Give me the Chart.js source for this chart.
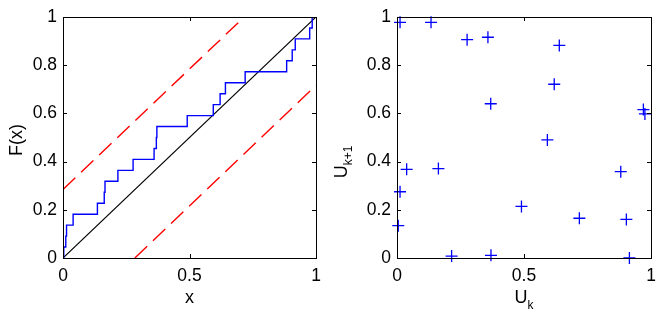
<!DOCTYPE html>
<html>
<head>
<meta charset="utf-8">
<script src="https://cdn.jsdelivr.net/npm/chart.js@4.4.1/dist/chart.umd.min.js"></script>
<style>
    body { margin: 0; background: #fff; }
    canvas { position: absolute; top: 0; }
    #cdf { left: 0; }
    #nuage { left: 332px; }
</style>
</head>
<body>
<canvas id="cdf" width="332" height="316"></canvas>
<canvas id="nuage" width="332" height="316"></canvas>
<script>
// Valeurs triees de l'echantillon (fonction de repartition empirique)
let valeursTriees = [0.003, 0.011, 0.014, 0.040, 0.136, 0.163, 0.166, 0.217, 0.277, 0.360, 0.369,
    0.371, 0.491, 0.594, 0.621, 0.642, 0.720, 0.884, 0.906, 0.918, 0.975, 0.985];
// Demi-largeur de la bande de Kolmogorov-Smirnov
let bandeKS = 0.284;
// Nuage (U_k, U_k+1)
let uk = [0.012, 0.134, 0.276, 0.358, 0.639, 0.619, 0.369, 0.970, 0.976, 0.592, 0.038,
    0.163, 0.012, 0.881, 0.490, 0.718, 0.903, 0.005, 0.215, 0.370, 0.915];
let ukSuivant = [0.978, 0.978, 0.906, 0.916, 0.882, 0.721, 0.640, 0.616, 0.598, 0.490, 0.368,
    0.371, 0.275, 0.358, 0.214, 0.165, 0.160, 0.134, 0.008, 0.011, 0.000];
// Graduations
let ticksX = [0, 0.5, 1];
let ticksY = [0, 0.2, 0.4, 0.6, 0.8, 1];

Chart.defaults.font.family = "'Liberation Sans', Arial, sans-serif";
Chart.defaults.font.size = 17.5;
Chart.defaults.color = '#000';

let n = valeursTriees.length;
let pointsEcdf = [{x: 0, y: 0}];
valeursTriees.forEach((v, i) => pointsEcdf.push({x: v, y: (i + 1) / n}));
pointsEcdf.push({x: 1, y: 1});

// Cadre noir + graduations vers l'interieur (style MATLAB) + titres des axes
function cadre(titres) {
    return {
        id: 'cadre',
        afterDraw(chart) {
            let ctx = chart.ctx;
            let a = chart.chartArea;
            let sx = chart.scales.x, sy = chart.scales.y;
            ctx.save();
            ctx.strokeStyle = '#000';
            ctx.lineWidth = 1;
            ctx.strokeRect(Math.round(a.left) + 0.5, Math.round(a.top) + 0.5,
                Math.round(a.right - a.left), Math.round(a.bottom - a.top));
            ctx.beginPath();
            ticksX.forEach(v => {
                let px = Math.round(sx.getPixelForValue(v)) + 0.5;
                ctx.moveTo(px, a.bottom); ctx.lineTo(px, a.bottom - 4);
                ctx.moveTo(px, a.top); ctx.lineTo(px, a.top + 4);
            });
            ticksY.forEach(v => {
                let py = Math.round(sy.getPixelForValue(v)) + 0.5;
                ctx.moveTo(a.left, py); ctx.lineTo(a.left + 4, py);
                ctx.moveTo(a.right, py); ctx.lineTo(a.right - 4, py);
            });
            ctx.stroke();
            titres(ctx, a);
            ctx.restore();
        }
    };
}

function echelles() {
    return {
        x: {
            type: 'linear', min: 0, max: 1,
            grid: {display: false, drawTicks: false}, border: {display: false},
            afterBuildTicks: s => { s.ticks = ticksX.map(v => ({value: v})); },
            afterFit: s => { s.height = 58; },
            ticks: {padding: 8, maxRotation: 0, callback: v => String(v)}
        },
        y: {
            type: 'linear', min: 0, max: 1,
            grid: {display: false, drawTicks: false}, border: {display: false},
            afterBuildTicks: s => { s.ticks = ticksY.map(v => ({value: v})); },
            afterFit: s => { s.width = 63; },
            ticks: {padding: 6, callback: v => String(v)}
        }
    };
}

new Chart(document.getElementById('cdf'), {
    type: 'scatter',
    data: {
        datasets: [
            {data: pointsEcdf, showLine: true, stepped: 'before', borderColor: '#0000ff',
                borderWidth: 1.4, pointRadius: 0},
            {data: [{x: 0, y: 0}, {x: 1, y: 1}], showLine: true, borderColor: '#000',
                borderWidth: 1.2, pointRadius: 0},
            {data: [{x: 0, y: bandeKS}, {x: 1 - bandeKS, y: 1}], showLine: true, borderColor: '#ff0000',
                borderWidth: 1.4, borderDash: [17, 8], pointRadius: 0},
            {data: [{x: bandeKS, y: 0}, {x: 1, y: 1 - bandeKS}], showLine: true, borderColor: '#ff0000',
                borderWidth: 1.4, borderDash: [17, 8], pointRadius: 0}
        ]
    },
    options: {
        responsive: false,
        animation: false,
        events: [],
        layout: {padding: {top: 17, right: 16, left: 0, bottom: 0}},
        plugins: {legend: {display: false}, tooltip: {enabled: false}},
        scales: echelles()
    },
    plugins: [cadre((ctx, a) => {
        ctx.fillStyle = '#000';
        ctx.font = "18px 'Liberation Sans', Arial, sans-serif";
        ctx.textAlign = 'center';
        ctx.textBaseline = 'alphabetic';
        ctx.fillText('x', (a.left + a.right) / 2, 303);
        ctx.save();
        ctx.translate(22, 140);
        ctx.rotate(-Math.PI / 2);
        ctx.fillText('F(x)', 0, 0);
        ctx.restore();
    })]
});

new Chart(document.getElementById('nuage'), {
    type: 'scatter',
    data: {
        datasets: [{
            data: uk.map((v, i) => ({x: v, y: ukSuivant[i]})),
            pointStyle: 'cross', pointRadius: 6, borderColor: '#0000ff',
            borderWidth: 1.3, clip: false
        }]
    },
    options: {
        responsive: false,
        animation: false,
        events: [],
        layout: {padding: {top: 17, right: 13, left: 2, bottom: 0}},
        plugins: {legend: {display: false}, tooltip: {enabled: false}},
        scales: echelles()
    },
    plugins: [cadre((ctx, a) => {
        ctx.fillStyle = '#000';
        ctx.textBaseline = 'alphabetic';
        ctx.textAlign = 'left';
        let grand = "18px 'Liberation Sans', Arial, sans-serif";
        let petit = "12px 'Liberation Sans', Arial, sans-serif";
        // U_k
        ctx.font = grand;
        let wU = ctx.measureText('U').width;
        ctx.font = petit;
        let wk = ctx.measureText('k').width;
        let x0 = (a.left + a.right) / 2 - (wU + wk) / 2;
        ctx.font = grand;
        ctx.fillText('U', x0, 303);
        ctx.font = petit;
        ctx.fillText('k', x0 + wU, 309);
        // U_k+1 (vertical)
        let wk1 = ctx.measureText('k+1').width;
        ctx.save();
        ctx.translate(347 - 332, 162);
        ctx.rotate(-Math.PI / 2);
        let d = -(wU + wk1) / 2;
        ctx.font = grand;
        ctx.fillText('U', d, 0);
        ctx.font = petit;
        ctx.fillText('k+1', d + wU, 5);
        ctx.restore();
    })]
});
</script>
</body>
</html>
